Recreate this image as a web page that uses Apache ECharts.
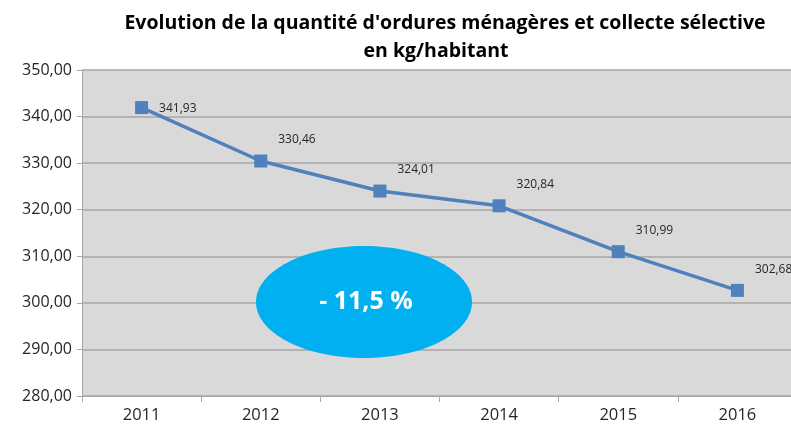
<!DOCTYPE html>
<html>
<head>
<meta charset="utf-8">
<script src="https://cdn.jsdelivr.net/npm/echarts@6/dist/echarts.min.js"></script>
<style>
  html, body { margin: 0; padding: 0; background: #fff; overflow: hidden; }
  #chart { width: 797px; height: 428px; }
</style>
</head>
<body>
<div id="chart"></div>
<script>
// données
const years = ['2011', '2012', '2013', '2014', '2015', '2016']
const kgParHabitant = [341.93, 330.46, 324.01, 320.84, 310.99, 302.68]
const variationLabel = '- 11,5 %'

const fmt = v => v.toFixed(2).replace('.', ',')

const chart = echarts.init(document.getElementById('chart'))

const titleStyle = {
  fontFamily: 'Open Sans',
  fontSize: 19.5,
  fontWeight: 'bold',
  color: '#000'
}

const option = {
  animation: false,
  title: [
    {
      text: "Evolution de la quantité d'ordures ménagères et collecte sélective",
      left: 440,
      textAlign: 'center',
      top: 8,
      textStyle: titleStyle
    },
    {
      text: 'en kg/habitant',
      left: 431,
      textAlign: 'center',
      top: 36,
      textStyle: titleStyle
    }
  ],
  grid: {
    left: 82,
    right: 0,
    top: 70,
    bottom: 32,
    show: true,
    backgroundColor: '#d9d9d9',
    borderWidth: 0
  },
  xAxis: {
    type: 'category',
    data: years,
    boundaryGap: true,
    axisLine: { lineStyle: { color: '#a6a6a6', width: 1 } },
    axisTick: { show: true, alignWithLabel: false, length: 6, lineStyle: { color: '#a6a6a6' } },
    axisLabel: { color: '#262626', fontSize: 16.5, fontFamily: 'Open Sans', margin: 11 }
  },
  yAxis: {
    type: 'value',
    min: 280,
    max: 350,
    interval: 10,
    axisLine: { show: true, lineStyle: { color: '#a6a6a6' } },
    axisTick: { show: true, length: 5, lineStyle: { color: '#a6a6a6' } },
    splitLine: { lineStyle: { color: '#a6a6a6', width: 1.5 } },
    axisLabel: { color: '#262626', fontSize: 16, fontFamily: 'Open Sans', margin: 10, formatter: v => fmt(v) }
  },
  graphic: [
    {
      type: 'ellipse',
      shape: { cx: 364, cy: 302, rx: 108, ry: 56 },
      style: { fill: '#00b0f0' },
      z: 1
    },
    {
      type: 'text',
      x: 366,
      y: 302,
      style: {
        text: variationLabel,
        fill: '#fff',
        font: 'bold 25px "Open Sans"',
        textAlign: 'center',
        textVerticalAlign: 'middle'
      },
      z: 2
    }
  ],
  series: [
    {
      type: 'line',
      data: kgParHabitant.map((v, i) => ({
        value: v,
        label: i === 0 ? { offset: [4, 1] } : { offset: [4, -21] }
      })),
      symbol: 'rect',
      symbolSize: 13,
      z: 3,
      lineStyle: { color: '#4f81bd', width: 3.5 },
      itemStyle: { color: '#4f81bd' },
      label: {
        show: true,
        position: 'right',
        distance: 7,
        color: '#262626',
        fontSize: 12,
        fontFamily: 'Open Sans',
        formatter: p => fmt(p.value)
      }
    }
  ]
}

chart.setOption(option)
</script>
</body>
</html>
